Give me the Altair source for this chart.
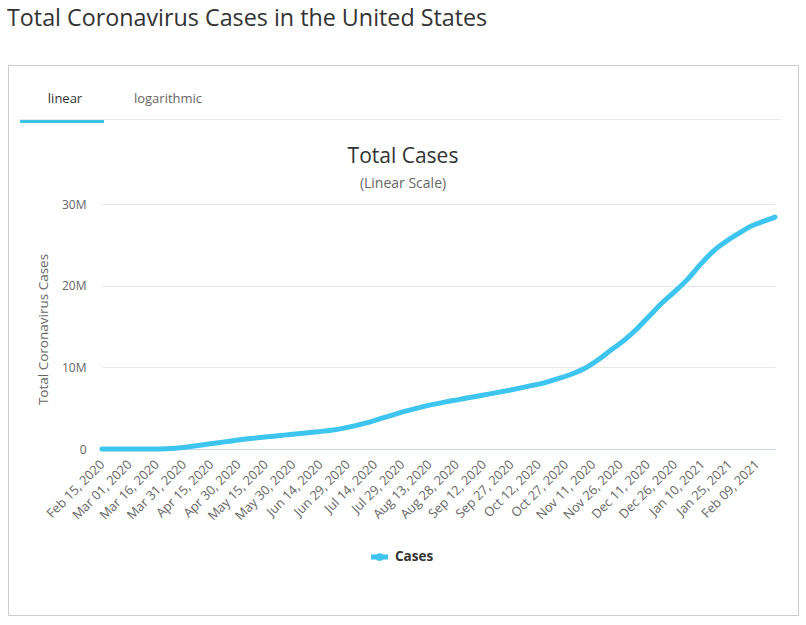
import altair as alt
import pandas as pd

# ---- data ----
dates = [
    "2020-02-15", "2020-02-22", "2020-02-29", "2020-03-07", "2020-03-14", "2020-03-21",
    "2020-03-28", "2020-04-04", "2020-04-11", "2020-04-18", "2020-04-25", "2020-05-02",
    "2020-05-09", "2020-05-16", "2020-05-23", "2020-05-30", "2020-06-06", "2020-06-13",
    "2020-06-20", "2020-06-27", "2020-07-04", "2020-07-11", "2020-07-18", "2020-07-25",
    "2020-08-01", "2020-08-08", "2020-08-15", "2020-08-22", "2020-08-29", "2020-09-05",
    "2020-09-12", "2020-09-19", "2020-09-26", "2020-10-03", "2020-10-10", "2020-10-17",
    "2020-10-24", "2020-10-31", "2020-11-07", "2020-11-14", "2020-11-21", "2020-11-28",
    "2020-12-05", "2020-12-12", "2020-12-19", "2020-12-26", "2021-01-02", "2021-01-09",
    "2021-01-16", "2021-01-23", "2021-01-30", "2021-02-06", "2021-02-13", "2021-02-19",
]
cases = [
    15, 35, 70, 430, 2900, 26000,
    123000, 311000, 530000, 735000, 960000, 1160000,
    1330000, 1500000, 1650000, 1800000, 1960000, 2120000,
    2300000, 2560000, 2900000, 3300000, 3780000, 4250000,
    4700000, 5100000, 5460000, 5770000, 6050000, 6340000,
    6620000, 6900000, 7200000, 7520000, 7850000, 8230000,
    8700000, 9250000, 9950000, 10950000, 12150000, 13300000,
    14700000, 16300000, 17900000, 19300000, 20800000, 22600000,
    24200000, 25400000, 26400000, 27300000, 27900000, 28400000,
]
# x-axis tick labels every 15 days (year, month, day)
tick_dates = [
    (2020, 2, 15), (2020, 3, 1), (2020, 3, 16), (2020, 3, 31), (2020, 4, 15),
    (2020, 4, 30), (2020, 5, 15), (2020, 5, 30), (2020, 6, 14), (2020, 6, 29),
    (2020, 7, 14), (2020, 7, 29), (2020, 8, 13), (2020, 8, 28), (2020, 9, 12),
    (2020, 9, 27), (2020, 10, 12), (2020, 10, 27), (2020, 11, 11), (2020, 11, 26),
    (2020, 12, 11), (2020, 12, 26), (2021, 1, 10), (2021, 1, 25), (2021, 2, 9),
]
y_ticks = [0, 10000000, 20000000, 30000000]

page_title = "Total Coronavirus Cases in the United States"
tab_labels = ["linear", "logarithmic"]
chart_title = "Total Cases"
chart_subtitle = "(Linear Scale)"
y_title = "Total Coronavirus Cases"
series_name = "Cases"

LINE_COLOR = "#3dc4ef"
FONT = "Open Sans"

# plot area placement
L, T, W, H = 102, 204, 673, 245

df = pd.DataFrame({"date": dates, "cases": cases})
one = pd.DataFrame({"a": [0]})


def px(x):
    return alt.value(x - L)


def py(y):
    return alt.value(y - T)


line = alt.Chart(df).mark_line(
    interpolate="monotone", strokeWidth=5, color=LINE_COLOR, strokeCap="round", strokeJoin="round"
).encode(
    x=alt.X(
        "date:T",
        scale=alt.Scale(type="utc", domain=[alt.DateTime(year=2020, month=2, date=15, utc=True),
                                            alt.DateTime(year=2021, month=2, date=19, utc=True)]),
        axis=alt.Axis(
            values=[alt.DateTime(year=y, month=m, date=d, utc=True) for (y, m, d) in tick_dates],
            labelExpr="utcFormat(datum.value, '%b %d, %Y')",
            labelAngle=-45, labelAlign="right",
            labelBaseline="middle", labelPadding=13,
            labelFontSize=12.8, labelColor="#666666", labelFont=FONT, labelOverlap=False,
            ticks=False, domainColor="#ccd6eb", domainWidth=1, grid=False, title=None,
        ),
    ),
    y=alt.Y(
        "cases:Q",
        scale=alt.Scale(domain=[0, 30000000], nice=False),
        axis=alt.Axis(
            values=y_ticks,
            labelExpr="datum.value == 0 ? '0' : (datum.value / 1000000) + 'M'",
            labelFontSize=12, labelColor="#666666", labelFont=FONT, labelPadding=16,
            ticks=False, domain=False, gridColor="#e6e6e6", gridWidth=1,
            title=y_title, titleFont=FONT, titleFontSize=13.5, titleColor="#666666",
            titleFontWeight="normal", titleX=43 - L, titleY=329 - T, titleAngle=-90,
            titleAlign="center", titleBaseline="middle",
        ),
    ),
)

box = alt.Chart(one).mark_rect(fill=None, stroke="#cccccc", strokeWidth=1).encode(
    x=px(8.5), x2=px(798.5), y=py(65.5), y2=py(615.5)
)

sep = alt.Chart(one).mark_rule(color="#e6e6e6", strokeWidth=1).encode(
    x=px(20), x2=px(780), y=py(119.5)
)
underline = alt.Chart(one).mark_rule(color="#3cc3e8", strokeWidth=3).encode(
    x=px(20), x2=px(104), y=py(121.5)
)

title_txt = alt.Chart(one).mark_text(
    align="left", baseline="middle", fontSize=23.3, font=FONT, color="#333333"
).encode(x=px(7), y=py(19), text=alt.value(page_title))

tab1 = alt.Chart(one).mark_text(
    align="center", baseline="middle", fontSize=13, font=FONT, color="#333333"
).encode(x=px(65), y=py(99), text=alt.value(tab_labels[0]))
tab2 = alt.Chart(one).mark_text(
    align="center", baseline="middle", fontSize=13, font=FONT, color="#666666"
).encode(x=px(168), y=py(99), text=alt.value(tab_labels[1]))

ctitle = alt.Chart(one).mark_text(
    align="center", baseline="middle", fontSize=21, font=FONT, color="#333333"
).encode(x=px(403), y=py(157), text=alt.value(chart_title))
csub = alt.Chart(one).mark_text(
    align="center", baseline="middle", fontSize=14, font=FONT, color="#666666"
).encode(x=px(403), y=py(184), text=alt.value(chart_subtitle))

leg_line = alt.Chart(one).mark_rule(color=LINE_COLOR, strokeWidth=5).encode(
    x=px(371), x2=px(388), y=py(557)
)
leg_dot = alt.Chart(one).mark_point(filled=True, size=60, color=LINE_COLOR, opacity=1).encode(
    x=px(379.5), y=py(557)
)
leg_txt = alt.Chart(one).mark_text(
    align="left", baseline="middle", fontSize=13.5, font=FONT, fontWeight="bold", color="#333333"
).encode(x=px(395), y=py(557), text=alt.value(series_name))

chart = alt.layer(
    box, sep, underline, title_txt, tab1, tab2, ctitle, csub, line, leg_line, leg_dot, leg_txt
).properties(
    width=W, height=H,
    autosize=alt.AutoSizeParams(type="none"),
    padding={"left": L, "top": T, "right": 806 - L - W, "bottom": 625 - T - H},
    background="white",
).configure_view(stroke=None)

chart.save("out.html", embed_options={"renderer": "svg", "actions": False})
